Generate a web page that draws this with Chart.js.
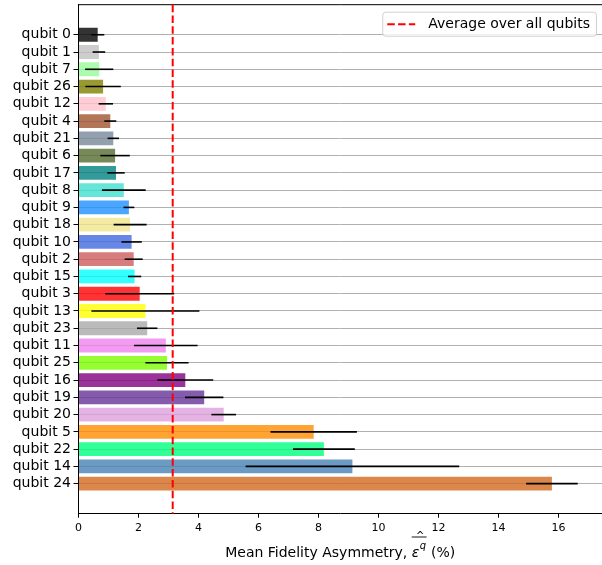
<!DOCTYPE html>
<html>
<head>
<meta charset="utf-8">
<script src="https://cdn.jsdelivr.net/npm/chart.js@4"></script>
<style>
  html, body { margin: 0; padding: 0; background: #fff; }
</style>
</head>
<body>
<canvas id="chart" width="602" height="565"></canvas>
<script>
const qubits = [
  'qubit 0', 'qubit 1', 'qubit 7', 'qubit 26', 'qubit 12', 'qubit 4', 'qubit 21',
  'qubit 6', 'qubit 17', 'qubit 8', 'qubit 9', 'qubit 18', 'qubit 10', 'qubit 2',
  'qubit 15', 'qubit 3', 'qubit 13', 'qubit 23', 'qubit 11', 'qubit 25', 'qubit 16',
  'qubit 19', 'qubit 20', 'qubit 5', 'qubit 22', 'qubit 14', 'qubit 24'
];
const asymmetry = [
  0.64, 0.68, 0.69, 0.82, 0.91, 1.06, 1.16,
  1.22, 1.25, 1.51, 1.68, 1.72, 1.77, 1.84,
  1.87, 2.04, 2.23, 2.29, 2.91, 2.95, 3.56,
  4.19, 4.84, 7.84, 8.18, 9.13, 15.78
];
const asymmetryErr = [
  0.22, 0.21, 0.47, 0.59, 0.24, 0.20, 0.19,
  0.49, 0.29, 0.73, 0.18, 0.55, 0.34, 0.30,
  0.22, 1.15, 1.80, 0.34, 1.06, 0.72, 0.93,
  0.64, 0.41, 1.44, 1.03, 3.56, 0.86
];
// matplotlib named colours at alpha 0.8
const barColors = [
  '#000000cc', '#c0c0c0cc', '#98fb98cc', '#808000cc', '#ffc0cbcc', '#a0522dcc', '#778899cc',
  '#556b2fcc', '#008080cc', '#40e0d0cc', '#1e90ffcc', '#f0e68ccc', '#4169e1cc', '#cd5c5ccc',
  '#00ffffcc', '#ff0000cc', '#ffff00cc', '#a9a9a9cc', '#ee82eecc', '#7cfc00cc', '#800080cc',
  '#663399cc', '#dda0ddcc', '#ff8c00cc', '#00ff7fcc', '#4682b4cc', '#d2691ecc'
];
const xTicks = [0, 2, 4, 6, 8, 10, 12, 14, 16];
const average = 3.14;
const legendLabel = 'Average over all qubits';

const FONT = "'DejaVu Sans', sans-serif";
Chart.defaults.font.family = FONT;
Chart.defaults.color = '#000';

// error bars, average line, legend, top spine and axis title
const overlay = {
  id: 'overlay',
  afterDraw(chart) {
    const { ctx, chartArea: area, scales: { x, y } } = chart;
    ctx.save();

    // top spine
    ctx.strokeStyle = '#000';
    ctx.lineWidth = 1;
    ctx.beginPath();
    ctx.moveTo(area.left, area.top);
    ctx.lineTo(area.right, area.top);
    ctx.stroke();

    // error bars
    ctx.strokeStyle = '#000';
    ctx.lineWidth = 1.6;
    asymmetry.forEach((v, i) => {
      const py = y.getPixelForValue(i);
      ctx.beginPath();
      ctx.moveTo(x.getPixelForValue(v - asymmetryErr[i]), py);
      ctx.lineTo(x.getPixelForValue(v + asymmetryErr[i]), py);
      ctx.stroke();
    });

    // average line
    const ax = x.getPixelForValue(average);
    ctx.strokeStyle = '#ff0000';
    ctx.lineWidth = 2;
    ctx.setLineDash([7.5, 3.3]);
    ctx.beginPath();
    ctx.moveTo(ax, area.top);
    ctx.lineTo(ax, area.bottom);
    ctx.stroke();

    // legend
    ctx.setLineDash([]);
    ctx.font = '14px ' + FONT;
    const tw = ctx.measureText(legendLabel).width;
    const bw = tw + 52, bh = 24;
    const bx = area.right + 1 - 7 - bw, by = area.top + 7;
    ctx.fillStyle = 'rgba(255,255,255,0.8)';
    ctx.strokeStyle = '#d0d0d0';
    ctx.lineWidth = 1;
    ctx.beginPath();
    ctx.roundRect(bx + 0.5, by + 0.5, bw, bh, 3);
    ctx.fill();
    ctx.stroke();
    ctx.strokeStyle = '#ff0000';
    ctx.lineWidth = 2;
    ctx.setLineDash([7.5, 3.3]);
    ctx.beginPath();
    ctx.moveTo(bx + 5, by + bh / 2 + 0.5);
    ctx.lineTo(bx + 33, by + bh / 2 + 0.5);
    ctx.stroke();
    ctx.setLineDash([]);
    ctx.fillStyle = '#000';
    ctx.textBaseline = 'middle';
    ctx.textAlign = 'left';
    ctx.fillText(legendLabel, bx + 46, by + bh / 2 + 1);

    // x axis title with math symbol
    const base = 557;
    const t1 = 'Mean Fidelity Asymmetry, ';
    const t2 = ' (%)';
    ctx.textBaseline = 'alphabetic';
    ctx.font = '14px ' + FONT;
    const w1 = ctx.measureText(t1).width;
    const w3 = ctx.measureText(t2).width;
    ctx.font = 'italic 14px ' + FONT;
    const we = ctx.measureText('ε').width;
    ctx.font = 'italic 10px ' + FONT;
    const wq = ctx.measureText('q').width;
    const total = w1 + we + wq + 1 + w3;
    let cx = (area.left + area.right) / 2 - total / 2;
    ctx.font = '14px ' + FONT;
    ctx.fillText(t1, cx, base);
    cx += w1;
    const symStart = cx;
    ctx.font = 'italic 14px ' + FONT;
    ctx.fillText('ε', cx, base);
    cx += we + 0.5;
    ctx.font = 'italic 10px ' + FONT;
    ctx.fillText('q', cx, base - 8.5);
    cx += wq + 0.5;
    const symEnd = cx;
    ctx.strokeStyle = '#000';
    ctx.lineWidth = 0.9;
    ctx.beginPath();
    ctx.moveTo(symStart, base - 20);
    ctx.lineTo(symEnd, base - 20);
    ctx.stroke();
    ctx.font = '10px ' + FONT;
    ctx.textAlign = 'center';
    ctx.fillText('^', (symStart + symEnd) / 2 + 1, base - 18.5);
    ctx.textAlign = 'left';
    ctx.font = '14px ' + FONT;
    ctx.fillText(t2, cx, base);

    ctx.restore();
  }
};

new Chart(document.getElementById('chart'), {
  type: 'bar',
  data: {
    datasets: [{
      data: asymmetry.map((v, i) => ({ x: v, y: i })),
      backgroundColor: barColors,
      borderWidth: 0,
      barPercentage: 0.8,
      categoryPercentage: 1
    }]
  },
  options: {
    indexAxis: 'y',
    responsive: false,
    animation: false,
    layout: { padding: { top: 4.7, right: 0, bottom: 0, left: 0 } },
    plugins: { legend: { display: false }, tooltip: { enabled: false } },
    scales: {
      x: {
        type: 'linear',
        min: 0,
        max: 17.45,
        afterBuildTicks: axis => { axis.ticks = xTicks.map(v => ({ value: v })); },
        afterFit: axis => { axis.height = 51.3; axis.paddingLeft = 0; axis.paddingRight = 0; },
        ticks: { font: { size: 11 }, color: '#000', padding: 4, maxRotation: 0 },
        grid: { drawOnChartArea: false, tickColor: '#000', tickLength: 4, tickWidth: 1 },
        border: { color: '#000', width: 1 }
      },
      y: {
        type: 'linear',
        reverse: true,
        offset: false,
        min: -1.74,
        max: 27.74,
        z: 1,
        afterBuildTicks: axis => { axis.ticks = qubits.map((q, i) => ({ value: i })); },
        afterFit: axis => { axis.width = 78.5; axis.paddingTop = 0; axis.paddingBottom = 0; },
        ticks: { callback: v => qubits[v], font: { size: 14 }, color: '#000', padding: 2.5, autoSkip: false },
        grid: { offset: false, color: '#b0b0b0', lineWidth: 1, tickColor: '#000', tickLength: 5, tickWidth: 1 },
        border: { color: '#000', width: 1 }
      }
    }
  },
  plugins: [overlay]
});
</script>
</body>
</html>
